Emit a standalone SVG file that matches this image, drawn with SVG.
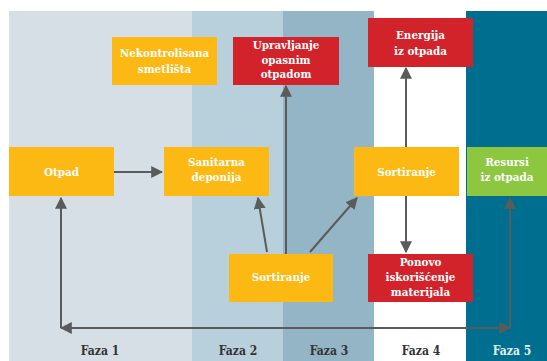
<svg xmlns="http://www.w3.org/2000/svg" width="547" height="361" viewBox="0 0 547 361">
<defs>
<style>
.n text{font-family:"DejaVu Serif Condensed","DejaVu Serif","Liberation Serif",serif;font-size:11.5px;font-weight:bold;fill:#fff;text-anchor:middle}
.o{fill:#fdb913}
.r{fill:#d2232a}
.g{fill:#8dc63f}
.ph{font-family:"DejaVu Serif Condensed","DejaVu Serif","Liberation Serif",serif;font-size:12px;font-weight:bold;fill:#333;text-anchor:middle}
.c line,.c path{stroke:#5b5b5b;stroke-width:2;fill:none}
</style>
<marker id="a" viewBox="0 0 10 10" refX="9" refY="5" markerWidth="6" markerHeight="6" orient="auto-start-reverse" markerUnits="strokeWidth">
<path d="M0,0L10,5L0,10z" fill="#5b5b5b"/>
</marker>
</defs>
<rect width="547" height="361" fill="#fff"/>
<g id="bands">
<rect x="9" y="11" width="183" height="350" fill="#d6dfe6"/>
<rect x="192" y="11" width="91" height="350" fill="#b8d0dc"/>
<rect x="283" y="11" width="91" height="350" fill="#94b5c6"/>
<rect x="374" y="11" width="92" height="350" fill="#ffffff"/>
<rect x="466" y="11" width="81" height="350" fill="#006f8f"/>
</g>
<g class="c">
<line x1="114" y1="172" x2="162" y2="172" marker-end="url(#a)"/>
<line x1="61" y1="328" x2="510" y2="328" marker-start="url(#a)" marker-end="url(#a)"/>
<line x1="61" y1="328" x2="61" y2="198" marker-end="url(#a)"/>
<line x1="510" y1="328" x2="510" y2="198" marker-end="url(#a)"/>
<line x1="286" y1="254" x2="286" y2="86" marker-end="url(#a)"/>
<line x1="267" y1="252" x2="258" y2="198" marker-end="url(#a)"/>
<line x1="310" y1="252" x2="357" y2="198" marker-end="url(#a)"/>
<line x1="406" y1="147" x2="406" y2="68" marker-end="url(#a)"/>
<line x1="406" y1="196" x2="406" y2="252" marker-end="url(#a)"/>
</g>
<g id="nekontrolisana" class="n"><rect class="o" x="112" y="37" width="105" height="48"/><text x="164.5" y="57">Nekontrolisana</text><text x="164.5" y="73">smetlišta</text></g>
<g id="upravljanje" class="n"><rect class="r" x="233" y="37" width="106" height="48"/><text x="286" y="49">Upravljanje</text><text x="286" y="64">opasnim</text><text x="286" y="78">otpadom</text></g>
<g id="energija" class="n"><rect class="r" x="368" y="18" width="105" height="49"/><text x="420.5" y="39">Energija</text><text x="420.5" y="55">iz otpada</text></g>
<g id="otpad" class="n"><rect class="o" x="9" y="147" width="105" height="49"/><text x="61.5" y="176">Otpad</text></g>
<g id="sanitarna" class="n"><rect class="o" x="164" y="147" width="105" height="49"/><text x="216.5" y="166">Sanitarna</text><text x="216.5" y="181">deponija</text></g>
<g id="sortiranje2" class="n"><rect class="o" x="354" y="147" width="105" height="49"/><text x="406.5" y="176">Sortiranje</text></g>
<g id="resursi" class="n"><rect class="g" x="467" y="147" width="80" height="49"/><text x="507" y="166">Resursi</text><text x="507" y="181">iz otpada</text></g>
<g id="sortiranje1" class="n"><rect class="o" x="229" y="254" width="104" height="48"/><text x="281" y="281">Sortiranje</text></g>
<g id="ponovo" class="n"><rect class="r" x="368" y="254" width="105" height="48"/><text x="420.5" y="266">Ponovo</text><text x="420.5" y="281">iskorišćenje</text><text x="420.5" y="296">materijala</text></g>
<g id="phases">
<text class="ph" x="100" y="355">Faza 1</text>
<text class="ph" x="238" y="355">Faza 2</text>
<text class="ph" x="329" y="355">Faza 3</text>
<text class="ph" x="421" y="355">Faza 4</text>
<text class="ph" x="512" y="355" style="fill:#e6eef2">Faza 5</text>
</g>
</svg>
